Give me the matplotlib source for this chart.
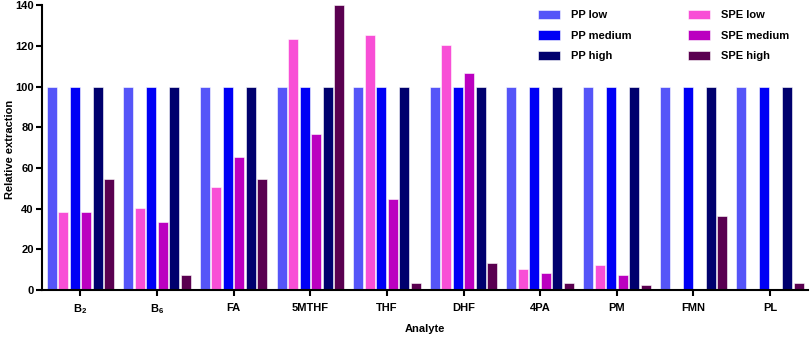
import numpy as np
import matplotlib
matplotlib.use('Agg')
import matplotlib.pyplot as plt

plt.rcParams['font.family'] = ['Liberation Sans', 'DejaVu Sans']
plt.rcParams['font.weight'] = 'bold'
plt.rcParams['mathtext.default'] = 'regular'

analytes = ['B$_2$', 'B$_6$', 'FA', '5MTHF', 'THF', 'DHF', '4PA', 'PM', 'FMN', 'PL']

pp_low = [100, 100, 100, 100, 100, 100, 100, 100, 100, 100]
pp_medium = [100, 100, 100, 100, 100, 100, 100, 100, 100, 100]
pp_high = [100, 100, 100, 100, 100, 100, 100, 100, 100, 100]
spe_low = [38.5, 40.5, 50.5, 123.5, 125.5, 120.5, 10.5, 12.5, 0, 0]
spe_medium = [38.5, 33.5, 65.5, 76.5, 44.5, 106.5, 8.5, 7.5, 0, 0]
spe_high = [54.5, 7.5, 54.5, 140, 3.5, 13.5, 3.5, 2.5, 36.5, 3.5]

# bar order inside each group: PP low, SPE low, PP medium, SPE medium, PP high, SPE high
series = [
    ('PP low', pp_low, '#5555f8'),
    ('SPE low', spe_low, '#f84fd6'),
    ('PP medium', pp_medium, '#0000f5'),
    ('SPE medium', spe_medium, '#bb00c0'),
    ('PP high', pp_high, '#00006e'),
    ('SPE high', spe_high, '#5a0050'),
]

fig = plt.figure(figsize=(8.1, 3.4), dpi=100)
ax = fig.add_axes([0.052, 0.147, 0.946, 0.838])

x = np.arange(len(analytes))
step = 0.15
width = 0.13
bars = {}
for k, (name, vals, col) in enumerate(series):
    bars[name] = ax.bar(x + (k - 2.5) * step, vals, width, color=col,
                        edgecolor='white', linewidth=0.4, label=name)

ax.set_xlim(-0.5, len(analytes) - 0.5)
ax.set_ylim(0, 140)
ax.set_yticks(np.arange(0, 141, 20))
ax.set_xticks(x)
ax.set_xticklabels(analytes, fontsize=8, fontweight='bold')
ax.tick_params(axis='y', labelsize=8, width=1.5, length=4, pad=2)
ax.tick_params(axis='x', width=1.5, length=4, pad=5)
for s in ['top', 'right']:
    ax.spines[s].set_visible(False)
for s in ['left', 'bottom']:
    ax.spines[s].set_linewidth(1.5)

# axis titles placed by hand to keep them inside the small canvas
fig.text(0.012, 0.56, 'Relative extraction', rotation=90, fontsize=8,
         fontweight='bold', ha='center', va='center')
fig.text(0.525, 0.032, 'Analyte', fontsize=8, fontweight='bold',
         ha='center', va='center')

order = ['PP low', 'PP medium', 'PP high', 'SPE low', 'SPE medium', 'SPE high']
fig.legend([bars[n] for n in order], order, ncol=2, loc='upper left',
           bbox_to_anchor=(0.652, 1.0), frameon=False, fontsize=8,
           handlelength=2.0, handleheight=0.9, labelspacing=0.9,
           columnspacing=5.0, handletextpad=1.0)

plt.savefig('out.png', dpi=100)
